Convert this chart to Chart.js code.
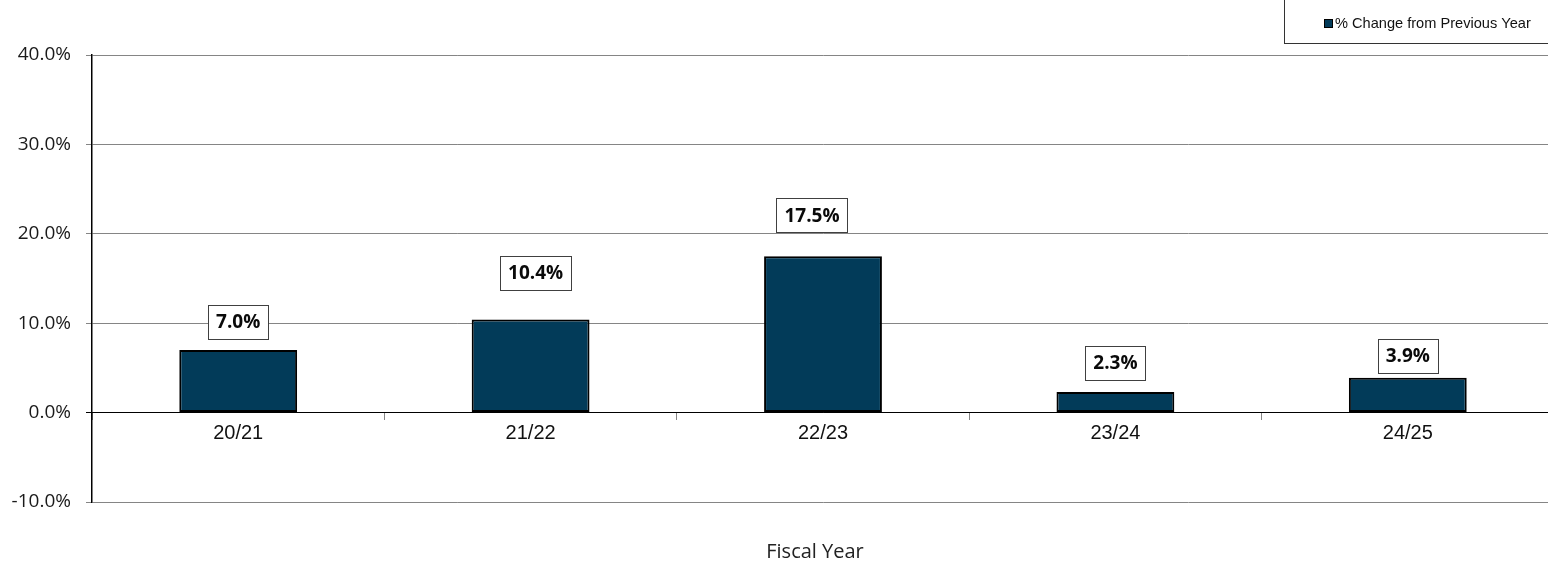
<!DOCTYPE html>
<html>
<head>
<meta charset="utf-8">
<script src="https://cdn.jsdelivr.net/npm/chart.js@4/dist/chart.umd.min.js"></script>
<style>
  html, body { margin: 0; padding: 0; background: #ffffff; overflow: hidden; }
  #wrap { width: 1548px; height: 565px; overflow: hidden; position: relative; }
  canvas { display: block; }
</style>
</head>
<body>
<div id="wrap"><canvas id="c" width="1554" height="565"></canvas></div>
<script>
// ---- data ----
const categories = ['20/21', '21/22', '22/23', '23/24', '24/25'];
const pctChange = [7.0, 10.4, 17.5, 2.3, 3.9];
const seriesName = '% Change from Previous Year';
const axisTitle = 'Fiscal Year';
const yMin = -10;
const yMax = 40;
const yStep = 10;

const barFill = '#023b59';
const gridGray = '#858585';

// custom data label boxes (manually placed in the original)
const labelPlugin = {
  id: 'boxLabels',
  afterDatasetsDraw(chart, args, opts) {
    const ctx = chart.ctx;
    const meta = chart.getDatasetMeta(0);
    ctx.save();
    ctx.font = 'bold 19px "Open Sans", "Noto Sans", sans-serif';
    ctx.textAlign = 'center';
    ctx.textBaseline = 'middle';
    meta.data.forEach((bar, i) => {
      const v = chart.data.datasets[0].data[i];
      const txt = v.toFixed(1) + '%';
      const w = ctx.measureText(txt).width + 16;
      const h = 34;
      const cx = bar.x + (opts.dx[i] || 0);
      const cy = bar.y - opts.rise[i];
      ctx.fillStyle = '#ffffff';
      ctx.fillRect(Math.round(cx - w / 2) + 0.5, Math.round(cy - h / 2) + 0.5, Math.round(w), h);
      ctx.strokeStyle = '#404040';
      ctx.lineWidth = 1;
      ctx.strokeRect(Math.round(cx - w / 2) + 0.5, Math.round(cy - h / 2) + 0.5, Math.round(w), h);
      ctx.fillStyle = '#0a0a0a';
      ctx.fillText(txt, cx, cy + 1);
    });
    ctx.restore();
  }
};

// custom legend box + axis title
const decorPlugin = {
  id: 'decor',
  afterDraw(chart) {
    const ctx = chart.ctx;
    ctx.save();
    // legend box
    ctx.strokeStyle = '#333333';
    ctx.lineWidth = 1;
    ctx.fillStyle = '#ffffff';
    ctx.fillRect(1284.5, -2, 300, 45.5);
    ctx.strokeRect(1284.5, -2, 300, 45.5);
    ctx.fillStyle = barFill;
    ctx.fillRect(1324.5, 19.5, 8, 8);
    ctx.strokeStyle = '#000000';
    ctx.strokeRect(1324.5, 19.5, 8, 8);
    ctx.fillStyle = '#111111';
    ctx.font = '14.6px "Liberation Sans", Arial, sans-serif';
    ctx.textAlign = 'left';
    ctx.textBaseline = 'middle';
    ctx.fillText(seriesName, 1335, 24);
    // axis title
    ctx.font = '20px "Open Sans", "Noto Sans", sans-serif';
    ctx.textAlign = 'center';
    ctx.fillStyle = '#222222';
    ctx.fillText(axisTitle, 815, 552);
    ctx.restore();
  }
};

new Chart(document.getElementById('c'), {
  type: 'bar',
  data: {
    labels: categories,
    datasets: [{
      label: seriesName,
      data: pctChange,
      backgroundColor: barFill,
      borderColor: '#000000',
      borderWidth: 2,
      borderSkipped: false,
      barPercentage: 0.403,
      categoryPercentage: 1.0
    }]
  },
  options: {
    responsive: false,
    animation: false,
    devicePixelRatio: 1,
    layout: { padding: { top: 55, bottom: 63, left: 0, right: 0 } },
    plugins: {
      legend: { display: false },
      tooltip: { enabled: false },
      title: { display: false },
      boxLabels: { rise: [28, 47, 41, 29, 22], dx: [0, 5, -11, 0, 0] }
    },
    scales: {
      x: {
        position: { y: 0 },
        offset: true,
        grid: {
          display: true,
          drawOnChartArea: false,
          drawTicks: true,
          tickLength: 7,
          color: gridGray,
          offset: true
        },
        border: { display: true, color: '#000000', width: 1 },
        ticks: {
          color: '#111111',
          padding: 2,
          font: { family: '"Liberation Sans", Arial, sans-serif', size: 20 }
        }
      },
      y: {
        position: 'left',
        min: yMin,
        max: yMax,
        afterFit(scale) { scale.width = 92; },
        grid: {
          color: (c) => (c.tick && c.tick.value === 0 ? '#000000' : gridGray),
          lineWidth: 1,
          drawTicks: true,
          tickLength: 6
        },
        border: { display: true, color: '#000000', width: 1.5 },
        ticks: {
          stepSize: yStep,
          padding: 15,
          color: '#1a1a1a',
          font: { family: '"Open Sans", "Noto Sans", sans-serif', size: 19 },
          callback: (v) => v.toFixed(1) + '%'
        }
      }
    }
  },
  plugins: [labelPlugin, decorPlugin]
});
</script>
</body>
</html>
